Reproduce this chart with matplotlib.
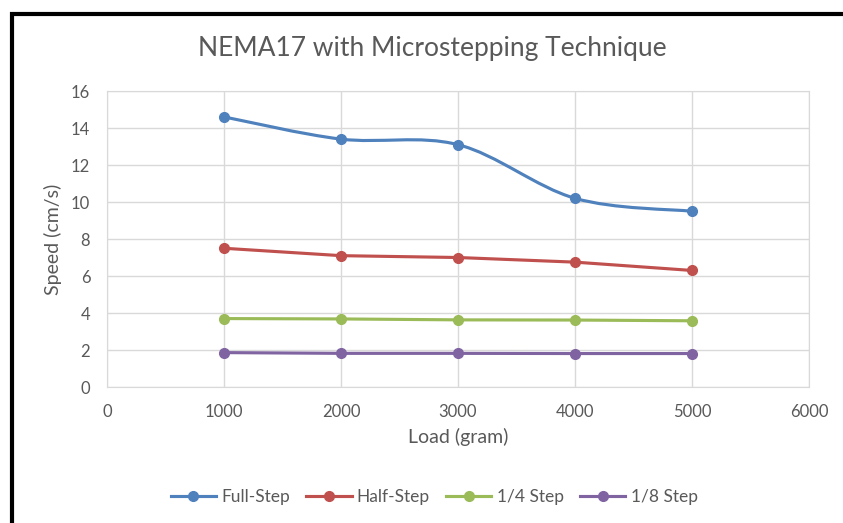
import numpy as np
import matplotlib
matplotlib.use("Agg")
import matplotlib.pyplot as plt
from matplotlib.path import Path
from matplotlib.patches import PathPatch, Rectangle
from matplotlib.lines import Line2D

plt.rcParams['font.family'] = ['Lato', 'DejaVu Sans']

load = [1000, 2000, 3000, 4000, 5000]
full_step = [14.6, 13.4, 13.1, 10.2, 9.5]
half_step = [7.5, 7.1, 7.0, 6.75, 6.3]
quarter_step = [3.7, 3.68, 3.63, 3.62, 3.58]
eighth_step = [1.86, 1.82, 1.82, 1.81, 1.81]

series_names = ["Full-Step", "Half-Step", "1/4 Step", "1/8 Step"]
colors = ["#4F81BD", "#C0504D", "#9BBB59", "#8064A2"]
text_color = "#595959"
grid_color = "#D9D9D9"


def smooth_path(x, y):
    # Bezier path through the points, like Excel's "smoothed line"
    pts = np.column_stack([x, y]).astype(float)
    n = len(pts)
    verts = [pts[0]]
    codes = [Path.MOVETO]
    for i in range(n - 1):
        p0 = pts[i - 1] if i > 0 else pts[i]
        p1 = pts[i]
        p2 = pts[i + 1]
        p3 = pts[i + 2] if i + 2 < n else pts[i + 1]
        c1 = p1 + (p2 - p0) / 6
        c2 = p2 - (p3 - p1) / 6
        verts += [c1, c2, p2]
        codes += [Path.CURVE4] * 3
    return Path(verts, codes)


fig = plt.figure(figsize=(8.43, 5.23), dpi=100)
ax = fig.add_axes([0.1269, 0.26, 0.8328, 0.566])

all_series = [full_step, half_step, quarter_step, eighth_step]
for name, vals, col in zip(series_names, all_series, colors):
    if name == "Full-Step":
        ax.add_patch(PathPatch(smooth_path(load, vals), facecolor="none",
                               edgecolor=col, lw=2.25, zorder=3))
    else:
        ax.plot(load, vals, color=col, lw=2.25, zorder=3)
    ax.plot(load, vals, "o", color=col, markersize=7, zorder=4)

ax.set_xlim(0, 6000)
ax.set_ylim(0, 16)
ax.set_xticks(range(0, 6001, 1000))
ax.set_yticks(range(0, 17, 2))
ax.grid(True, color=grid_color, lw=1)
ax.set_axisbelow(True)
for sp in ax.spines.values():
    sp.set_color(grid_color)
ax.tick_params(length=0, colors=text_color, labelsize=12)
ax.tick_params(axis="y", pad=12)
ax.tick_params(axis="x", pad=12)

ax.set_xlabel("Load (gram)", fontsize=14, color=text_color)
ax.set_ylabel("Speed (cm/s)", fontsize=14, color=text_color)
ax.xaxis.set_label_coords(0.5, -0.139)
ax.yaxis.set_label_coords(-0.064, 0.5)
fig.text(0.513, 0.908, "NEMA17 with Microstepping Technique", ha="center",
         va="center", fontsize=19, color=text_color)

handles = [Line2D([], [], color=c, lw=2.25, marker="o", markersize=7)
           for c in colors]
fig.legend(handles, series_names, loc="center", bbox_to_anchor=(0.515, 0.05),
           ncol=4, frameon=False, fontsize=12.5, labelcolor=text_color,
           handlelength=2.6, handletextpad=0.3, columnspacing=0.95)

# black frame (cut off at right and bottom)
fig.patches.append(Rectangle((12 / 843, -0.1), 1.2, 1 - 14 / 523 + 0.1,
                             transform=fig.transFigure, fill=False,
                             edgecolor="black", lw=3))

fig.savefig("out.png", dpi=100)
